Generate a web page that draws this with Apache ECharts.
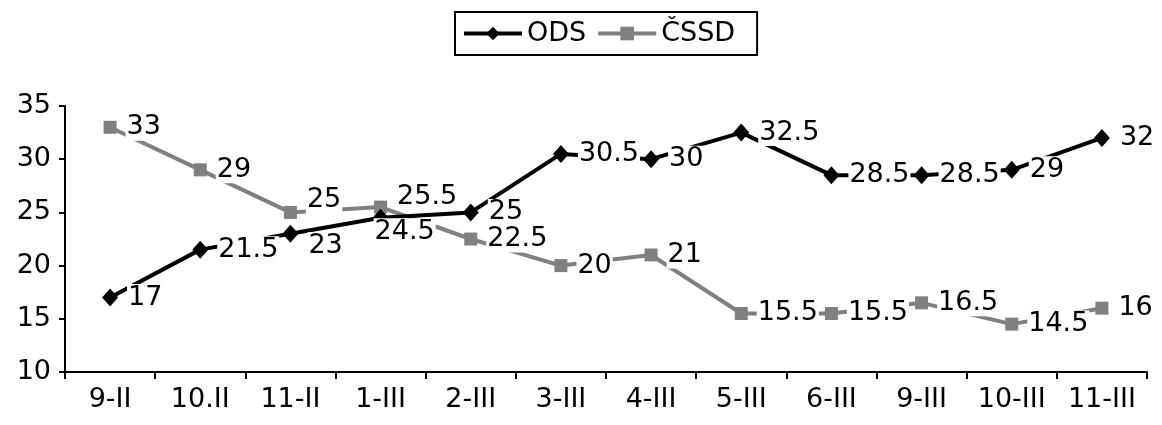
<!DOCTYPE html>
<html><head><meta charset="utf-8">
<script src="https://cdn.jsdelivr.net/npm/echarts@6/dist/echarts.min.js"></script>
<style>html,body{margin:0;padding:0;background:#fff}#c{width:1162px;height:425px}</style>
</head><body><div id="c"></div>
<script>
const categories = ['9-II','10.II','11-II','1-III','2-III','3-III','4-III','5-III','6-III','9-III','10-III','11-III'];
const odsValues = [17, 21.5, 23, 24.5, 25, 30.5, 30, 32.5, 28.5, 28.5, 29, 32];
const cssdValues = [33, 29, 25, 25.5, 22.5, 20, 21, 15.5, 15.5, 16.5, 14.5, 16];
const yTicks = {min: 10, max: 35, interval: 5};

const FONT = 'DejaVu Sans';
const FS = 27;
const odsLabelOffsets = {2: [0, 12], 3: [-24, 14]};
const cssdLabelOffsets = {2: [0, -12], 3: [0, -10]};

function mkData(vals, offs) {
  return vals.map((v, i) => offs[i] ? {value: v, label: {offset: offs[i]}} : v);
}
const labelBase = {
  show: true, position: 'right', distance: 9, color: '#000',
  fontFamily: FONT, fontSize: FS, backgroundColor: '#fff', padding: [0, 1]
};
const chart = echarts.init(document.getElementById('c'), null, {renderer: 'canvas'});
chart.setOption({
  animation: false,
  textStyle: {fontFamily: FONT},
  legend: {
    top: 12, left: 455, itemWidth: 58, itemHeight: 17, itemGap: 10,
    borderColor: '#000', borderWidth: 2, padding: [8, 22, 8, 7],
    textStyle: {fontFamily: FONT, fontSize: FS, color: '#000'},
    data: [
      {name: 'ODS', lineStyle: {width: 4, color: '#000'}},
      {name: 'ČSSD', lineStyle: {width: 4, color: '#808080'}}
    ]
  },
  grid: {left: 65, right: 15, top: 106, bottom: 53},
  xAxis: {
    type: 'category', data: categories, boundaryGap: true,
    axisLine: {lineStyle: {color: '#000', width: 2}},
    axisTick: {show: true, length: 7, lineStyle: {color: '#000', width: 2}},
    axisLabel: {color: '#000', fontFamily: FONT, fontSize: FS, margin: 14, interval: 0}
  },
  yAxis: {
    type: 'value', min: yTicks.min, max: yTicks.max, interval: yTicks.interval,
    splitLine: {show: false},
    axisLine: {show: true, lineStyle: {color: '#000', width: 2}},
    axisTick: {show: true, length: 6, lineStyle: {color: '#000', width: 2}},
    axisLabel: {color: '#000', fontFamily: FONT, fontSize: FS, margin: 14}
  },
  series: [
    {
      name: 'ČSSD', type: 'line', data: mkData(cssdValues, cssdLabelOffsets), z: 2,
      symbol: 'rect', symbolSize: 13,
      itemStyle: {color: '#808080'}, lineStyle: {color: '#808080', width: 4},
      label: labelBase
    },
    {
      name: 'ODS', type: 'line', data: mkData(odsValues, odsLabelOffsets), z: 3,
      symbol: 'diamond', symbolSize: [16, 18],
      itemStyle: {color: '#000'}, lineStyle: {color: '#000', width: 4},
      label: labelBase
    }
  ]
});
</script></body></html>
